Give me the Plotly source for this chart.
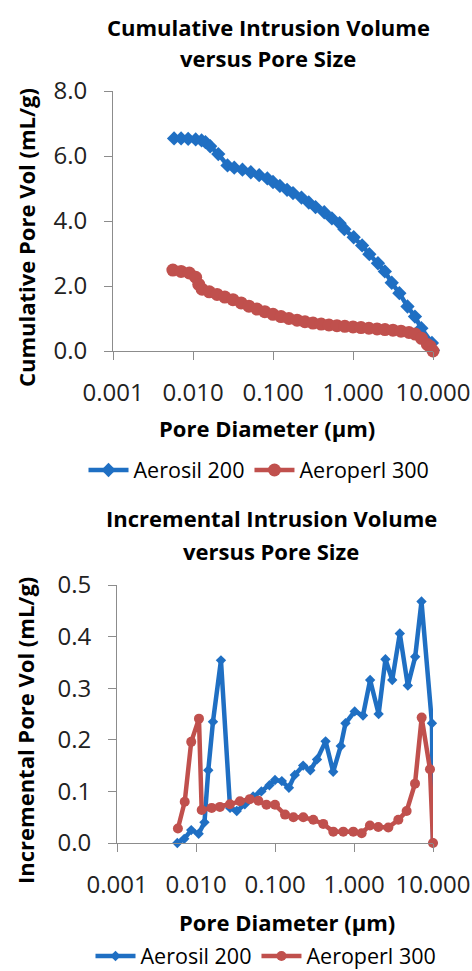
import plotly.graph_objects as go

# ---- Data ----
aerosil_d = [0.0058, 0.0071, 0.0087, 0.0108, 0.0128, 0.0143, 0.0164, 0.0207, 0.0270, 0.0328,
             0.0415, 0.0528, 0.0672, 0.085, 0.100, 0.122, 0.150, 0.178, 0.227, 0.280,
             0.340, 0.437, 0.545, 0.68, 0.78, 1.02, 1.30, 1.60, 2.05, 2.50,
             3.05, 3.80, 4.80, 5.95, 7.15, 9.7, 10.0]
aerosil_cum = [6.54, 6.54, 6.53, 6.51, 6.48, 6.43, 6.30, 6.06, 5.71, 5.64,
               5.58, 5.50, 5.41, 5.31, 5.20, 5.08, 4.96, 4.86, 4.72, 4.57,
               4.43, 4.27, 4.08, 3.93, 3.75, 3.50, 3.25, 2.98, 2.70, 2.45,
               2.10, 1.78, 1.37, 1.06, 0.70, 0.25, 0.02]
aerosil_inc = [0.000, 0.008, 0.025, 0.018, 0.040, 0.141, 0.235, 0.354, 0.068, 0.062,
               0.075, 0.090, 0.100, 0.112, 0.122, 0.120, 0.107, 0.132, 0.150, 0.141,
               0.162, 0.197, 0.138, 0.188, 0.232, 0.255, 0.247, 0.316, 0.250, 0.356,
               0.316, 0.406, 0.305, 0.361, 0.468, 0.232, 0.000]

aeroperl_cum_d = [0.0056, 0.0071, 0.0090, 0.0108, 0.0118, 0.0130, 0.0160, 0.0200, 0.0250, 0.0316,
                  0.040, 0.050, 0.063, 0.079, 0.100, 0.126, 0.158, 0.200, 0.251, 0.316,
                  0.40, 0.50, 0.63, 0.79, 1.00, 1.26, 1.58, 2.00, 2.51, 3.16,
                  3.98, 5.01, 6.00, 7.19, 8.5, 9.2, 10.0]
aeroperl_cum = [2.49, 2.45, 2.40, 2.27, 2.05, 1.90, 1.82, 1.74, 1.66, 1.58,
                1.48, 1.38, 1.29, 1.21, 1.13, 1.06, 1.00, 0.95, 0.90, 0.86,
                0.83, 0.80, 0.78, 0.76, 0.74, 0.72, 0.70, 0.68, 0.66, 0.64,
                0.61, 0.57, 0.52, 0.39, 0.20, 0.14, 0.00]

aeroperl_inc_d = [0.0059, 0.0072, 0.0087, 0.0109, 0.0118, 0.0158, 0.0201, 0.0269, 0.036, 0.048,
                  0.0616, 0.078, 0.100, 0.134, 0.171, 0.228, 0.305, 0.408, 0.547, 0.732,
                  0.98, 1.25, 1.59, 2.03, 2.72, 3.64, 4.64, 5.92, 7.19, 9.16, 10.0]
aeroperl_inc = [0.028, 0.080, 0.196, 0.241, 0.064, 0.068, 0.070, 0.075, 0.081, 0.085,
                0.082, 0.074, 0.074, 0.055, 0.050, 0.050, 0.045, 0.037, 0.022, 0.022,
                0.022, 0.019, 0.034, 0.031, 0.030, 0.045, 0.062, 0.115, 0.243, 0.143, 0.000]

x_tickvals = [0.001, 0.01, 0.1, 1, 10]
x_ticktext = ["0.001", "0.010", "0.100", "1.000", "10.000"]
cum_ticks = [0, 2, 4, 6, 8]
inc_ticks = [0, 0.1, 0.2, 0.3, 0.4, 0.5]

BLUE = "#1F6FC3"
RED = "#C0504D"
FONT = "Open Sans"
W, H = 472, 971

fig = go.Figure()

fig.add_trace(go.Scatter(x=aerosil_d, y=aerosil_cum, name="Aerosil 200", mode="lines+markers",
                         line=dict(color=BLUE, width=4.5),
                         marker=dict(symbol="diamond", size=11, color=BLUE),
                         xaxis="x", yaxis="y", legend="legend", cliponaxis=False))
fig.add_trace(go.Scatter(x=aeroperl_cum_d, y=aeroperl_cum, name="Aeroperl 300", mode="lines+markers",
                         line=dict(color=RED, width=4.5),
                         marker=dict(symbol="circle", size=13, color=RED),
                         xaxis="x", yaxis="y", legend="legend", cliponaxis=False))
fig.add_trace(go.Scatter(x=aerosil_d, y=aerosil_inc, name="Aerosil 200", mode="lines+markers",
                         line=dict(color=BLUE, width=4.5),
                         marker=dict(symbol="diamond", size=8, color=BLUE),
                         xaxis="x2", yaxis="y2", legend="legend2", cliponaxis=False))
fig.add_trace(go.Scatter(x=aeroperl_inc_d, y=aeroperl_inc, name="Aeroperl 300", mode="lines+markers",
                         line=dict(color=RED, width=4.5),
                         marker=dict(symbol="circle", size=10, color=RED),
                         xaxis="x2", yaxis="y2", legend="legend2", cliponaxis=False))

def px_x(p):
    return p / W

def px_y(p):
    return (H - p) / H

axis_common = dict(showline=True, linecolor="#8c8c8c", linewidth=1, ticks="outside",
                   tickcolor="#8c8c8c", ticklen=8, showgrid=False, zeroline=False,
                   tickfont=dict(family=FONT, size=24, color="#222"), ticklabelstandoff=12,
                   ticklabeloverflow="allow")

fig.update_layout(
    width=W, height=H, margin=dict(l=0, r=0, t=0, b=0, autoexpand=False),
    paper_bgcolor="white", plot_bgcolor="white",
    font=dict(family=FONT, color="#000"),
    xaxis=dict(type="log", range=[-3, 1], domain=[px_x(113), px_x(433)], anchor="y",
               tickvals=x_tickvals, ticktext=x_ticktext, **axis_common),
    yaxis=dict(range=[0, 8], domain=[px_y(351), px_y(91)], anchor="x",
               tickvals=cum_ticks, tickformat=".1f", **axis_common),
    xaxis2=dict(type="log", range=[-3, 1], domain=[px_x(117), px_x(433)], anchor="y2",
                tickvals=x_tickvals, ticktext=x_ticktext, **axis_common),
    yaxis2=dict(range=[0, 0.5], domain=[px_y(843), px_y(585)], anchor="x2",
                tickvals=inc_ticks, tickformat=".1f", **axis_common),
    legend=dict(orientation="h", x=px_x(259), y=px_y(470), xanchor="center", yanchor="middle",
                font=dict(family=FONT, size=21.5, color="#000"), itemwidth=40,
                bgcolor="rgba(0,0,0,0)", tracegroupgap=0),
    legend2=dict(orientation="h", x=px_x(266), y=px_y(956), xanchor="center", yanchor="middle",
                 font=dict(family=FONT, size=21.5, color="#000"), itemwidth=40,
                 bgcolor="rgba(0,0,0,0)", tracegroupgap=0),
    showlegend=True,
)

def label(text, x, y, size=22, bold=True, angle=0):
    fig.add_annotation(text=("<b>%s</b>" % text) if bold else text,
                       x=px_x(x), y=px_y(y), xref="paper", yref="paper",
                       xanchor="center", yanchor="middle", showarrow=False, textangle=angle,
                       font=dict(family=FONT, size=size, color="#000"))

label("Cumulative Intrusion Volume", 268, 27)
label("versus Pore Size", 268, 58)
label("Cumulative Pore Vol (mL/g)", 26, 238, angle=-90)
label("Pore Diameter (µm)", 267, 428)

label("Incremental Intrusion Volume", 271, 518)
label("versus Pore Size", 271, 551)
label("Incremental Pore Vol (mL/g)", 25, 731, angle=-90)
label("Pore Diameter (µm)", 287, 922)

fig.write_html("out.html", config={"displayModeBar": False},
               post_script="document.body.style.margin='0';document.body.style.padding='0';"
                           "document.documentElement.style.overflow='hidden';")
